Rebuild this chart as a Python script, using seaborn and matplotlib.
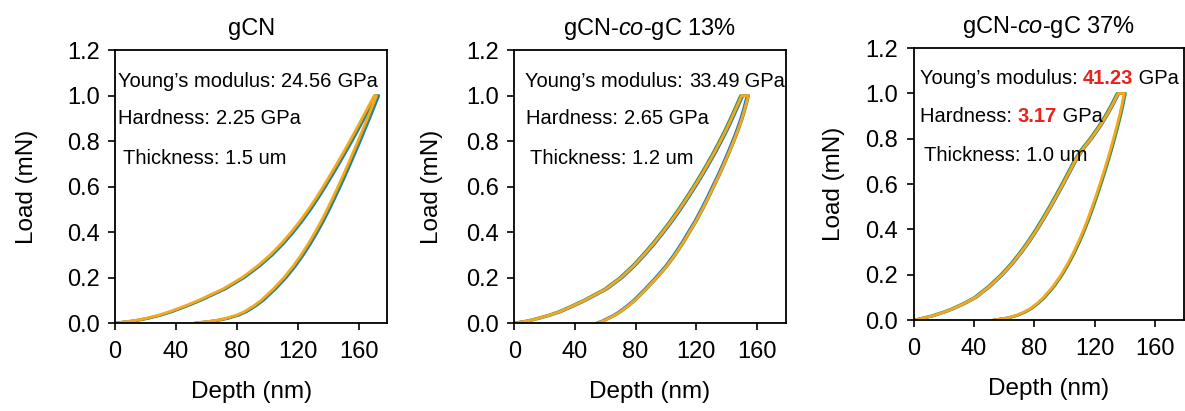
import numpy as np
import pandas as pd
import matplotlib
matplotlib.use("Agg")
import matplotlib.pyplot as plt
import matplotlib.transforms as mtransforms
import seaborn as sns

# load levels (mN) for the loading branch and the unloading branch
load_up = [0, 0.01, 0.02, 0.035, 0.05, 0.075, 0.1, 0.15, 0.2, 0.25, 0.3, 0.35, 0.4,
           0.45, 0.5, 0.55, 0.6, 0.65, 0.7, 0.75, 0.8, 0.85, 0.9, 0.95, 1.0]
load_down = [1.0, 0.95, 0.9, 0.85, 0.8, 0.75, 0.7, 0.65, 0.6, 0.55, 0.5, 0.45, 0.4,
             0.35, 0.3, 0.25, 0.2, 0.15, 0.1, 0.075, 0.05, 0.035, 0.02, 0.01, 0]

# depth (nm), three repeat indents per sample, loading then unloading
gcn_orange_up = [0, 12, 20, 29, 36, 46, 55, 71, 83.5, 93.5, 102, 109.3, 115.8, 121.7, 127.1,
                 132.1, 136.8, 141.3, 145.7, 150, 154.2, 158.3, 162.3, 166.3, 170.3]
gcn_orange_down = [171.8, 168.8, 165.8, 162.7, 159.6, 156.4, 153.2, 149.9, 146.5, 143, 139.4,
                   135.6, 131.5, 127.1, 122.3, 117, 111, 104, 96, 91, 85, 80, 72.5, 65, 52]
gcn_blue_up = [0, 13.5, 21.5, 30.5, 37.5, 47.5, 56.5, 72.5, 85, 95, 103.5, 110.8, 117.3, 123.2,
               128.6, 133.6, 138.3, 142.8, 147.2, 151.5, 155.7, 159.8, 163.8, 167.8, 171.8]
gcn_blue_down = [173.3, 170.3, 167.3, 164.2, 161.1, 157.9, 154.7, 151.4, 148, 144.5, 140.9,
                 137.1, 133, 128.6, 123.8, 118.5, 112.5, 105.5, 97.5, 92.5, 86.5, 81.5, 74, 66.5, 53.5]
gcn_green_up = [0, 12.7, 20.7, 29.7, 36.7, 46.7, 55.7, 71.7, 84.2, 94.2, 102.7, 110, 116.5, 122.4,
                127.8, 132.8, 137.5, 142, 146.4, 150.7, 154.9, 159, 163, 167, 171]
gcn_green_down = [172.5, 169.5, 166.5, 163.4, 160.3, 157.1, 153.9, 150.6, 147.2, 143.7, 140.1,
                  136.3, 132.2, 127.8, 123, 117.7, 111.7, 104.7, 96.7, 91.7, 85.7, 80.7, 73.2, 65.7, 52.7]

c13_orange_up = [0, 9.5, 15.5, 23.5, 30, 38.5, 46.5, 60.5, 70.5, 78.5, 85.5, 92, 98, 103.7, 109,
                 114, 118.8, 123.4, 127.8, 132, 136, 139.8, 143.3, 146.7, 150]
c13_orange_down = [154.3, 152.4, 150.2, 147.6, 144.7, 141.6, 138.4, 135, 131.4, 127.8, 124, 120,
                   115.5, 111, 106, 100.5, 94, 87, 79.5, 75, 70, 66.5, 62, 59, 55]
c13_blue_up = [0, 10.3, 16.3, 24.3, 30.8, 39.3, 47.3, 61.3, 71.3, 79.3, 86.3, 92.8, 98.8, 104.5,
               109.8, 114.8, 119.6, 124.2, 128.6, 132.8, 136.8, 140.6, 144.1, 147.5, 150.8]
c13_blue_down = [153.5, 151.6, 149.4, 146.8, 143.9, 140.8, 137.6, 134.2, 130.6, 127, 123.2, 119.2,
                 114.7, 110.2, 105.2, 99.7, 93.2, 86.2, 78.7, 74.2, 69.2, 65.7, 61.2, 58.2, 54.2]
c13_green_up = [0, 8.7, 14.7, 22.7, 29.2, 37.7, 45.7, 59.7, 69.7, 77.7, 84.7, 91.2, 97.2, 102.9,
                108.2, 113.2, 118, 122.6, 127, 131.2, 135.2, 139, 142.5, 145.9, 149.2]
c13_green_down = [154.6, 152.7, 150.5, 147.9, 145, 141.9, 138.7, 135.3, 131.7, 128.1, 124.3, 120.3,
                  115.8, 111.3, 106.3, 100.8, 94.3, 87.3, 79.8, 75.3, 70.3, 66.8, 62.3, 59.3, 55.3]

c37_orange_up = [0, 7, 13, 20, 26, 34, 41, 50.5, 58.5, 65.3, 71.3, 76.7, 81.6, 86.2, 90.6,
                 94.8, 98.9, 102.9, 106.8, 111.5, 117.5, 122.8, 127.5, 131.7, 135.5]
c37_orange_down = [139.5, 138, 136.3, 134.4, 132.4, 130.3, 128.1, 125.8, 123.4, 120.9, 118.3,
                   115.6, 112.7, 109.5, 106, 102.1, 97.7, 92.5, 86, 82, 77, 73, 67.5, 62, 52]
c37_blue_up = [0, 7.5, 13.5, 20.5, 26.5, 34.5, 41.5, 51, 59, 65.8, 71.8, 77.2, 82.1, 86.7, 91.1,
               95.3, 99.4, 103.4, 107.3, 112, 118, 123.3, 128, 132.2, 136]
c37_blue_down = [139.9, 138.4, 136.7, 134.8, 132.8, 130.7, 128.5, 126.2, 123.8, 121.3, 118.7,
                 116, 113.1, 109.9, 106.4, 102.5, 98.1, 92.9, 86.4, 82.4, 77.4, 73.4, 67.9, 62.4, 52.4]
c37_green_up = [0, 6.2, 12.2, 19.2, 25.2, 33.2, 40.2, 49.7, 57.7, 64.5, 70.5, 75.9, 80.8, 85.4,
                89.8, 94, 98.1, 102.1, 106, 110.7, 116.7, 122, 126.7, 130.9, 134.7]
c37_green_down = [140.3, 138.8, 137.1, 135.2, 133.2, 131.1, 128.9, 126.6, 124.2, 121.7, 119.1,
                  116.4, 113.5, 110.3, 106.8, 102.9, 98.5, 93.3, 86.8, 82.8, 77.8, 73.8, 68.3, 62.8, 52.8]

titles = ["gCN", r"gCN-$\mathit{co}$-gC 13%", r"gCN-$\mathit{co}$-gC 37%"]
modulus = ["24.56", "33.49", "41.23"]
hardness = ["2.25", "2.65", "3.17"]
thickness = ["1.5", "1.2", "1.0"]
highlight = [False, False, True]

samples = [
    {"blue": (gcn_blue_up, gcn_blue_down), "green": (gcn_green_up, gcn_green_down),
     "orange": (gcn_orange_up, gcn_orange_down)},
    {"blue": (c13_blue_up, c13_blue_down), "green": (c13_green_up, c13_green_down),
     "orange": (c13_orange_up, c13_orange_down)},
    {"blue": (c37_blue_up, c37_blue_down), "green": (c37_green_up, c37_green_down),
     "orange": (c37_orange_up, c37_orange_down)},
]

palette = {"blue": "#1f7bbf", "green": "#3a8f5a", "orange": "#f5a81c"}
red = "#e8231c"

sns.set_theme(style="ticks")
plt.rcParams["font.family"] = ["Liberation Sans", "DejaVu Sans"]
plt.rcParams["mathtext.fontset"] = "custom"
plt.rcParams["mathtext.rm"] = "Liberation Sans"
plt.rcParams["mathtext.it"] = "Liberation Sans:italic"
plt.rcParams["text.color"] = "black"
plt.rcParams["axes.labelcolor"] = "black"
plt.rcParams["axes.linewidth"] = 1.3
plt.rcParams["axes.edgecolor"] = "black"
plt.rcParams["xtick.major.width"] = 1.2
plt.rcParams["ytick.major.width"] = 1.2
plt.rcParams["xtick.major.size"] = 5
plt.rcParams["ytick.major.size"] = 5

fig = plt.figure(figsize=(11.85, 4.11), dpi=100)
positions = [
    [0.097, 0.214, 0.230, 0.664],
    [0.434, 0.214, 0.229, 0.664],
    [0.771, 0.221, 0.228, 0.662],
]
text_x = [(2, 2, 5), (7.3, 8, 10.6), (4, 4, 6.6)]
ylabel_pad = [21, 17, 15]


def chained_text(ax, x, y, parts, size):
    # draw text pieces one after another on the same baseline
    t = ax.text(x, y, parts[0][0], fontsize=size, color=parts[0][1],
                fontweight=parts[0][2], va="baseline", ha="left")
    trans = t.get_transform()
    offset = 0
    for s, c, w in parts[1:]:
        fig.canvas.draw()
        offset += t.get_window_extent().width
        t = ax.text(x, y, s, fontsize=size, color=c, fontweight=w, va="baseline", ha="left",
                    transform=mtransforms.offset_copy(trans, fig=fig, x=offset, units="dots"))


for i, pos in enumerate(positions):
    ax = fig.add_axes(pos)
    rows = []
    for rep in ["blue", "green", "orange"]:
        up, down = samples[i][rep]
        for d, l in zip(up + down, load_up + load_down):
            rows.append({"depth": d, "load": l, "rep": rep})
    df = pd.DataFrame(rows)
    sns.lineplot(data=df, x="depth", y="load", hue="rep", palette=palette, sort=False,
                 estimator=None, legend=False, linewidth=2.0, ax=ax)

    ax.set_xlim(0, 179)
    ax.set_ylim(0, 1.2)
    ax.set_xticks([0, 40, 80, 120, 160])
    ax.set_yticks(np.arange(0, 1.21, 0.2))
    ax.set_yticklabels(["%.1f" % v for v in np.arange(0, 1.21, 0.2)])
    ax.tick_params(labelsize=17, colors="black")
    ax.tick_params(axis="x", pad=8)
    ax.tick_params(axis="y", pad=6)
    ax.set_xlabel("Depth (nm)", fontsize=17.5, labelpad=13)
    ax.set_ylabel("Load (mN)", fontsize=17.5, labelpad=ylabel_pad[i])
    ax.set_title(titles[i], fontsize=17, pad=11)
    for sp in ax.spines.values():
        sp.set_visible(True)
        sp.set_color("black")

    hl_color = red if highlight[i] else "black"
    hl_weight = "bold" if highlight[i] else "normal"
    xa, xb, xc = text_x[i]
    chained_text(ax, xa, 1.04, [("Young’s modulus: ", "black", "normal"),
                                (modulus[i], hl_color, hl_weight),
                                (" GPa", "black", "normal")], 14.5)
    chained_text(ax, xb, 0.875, [("Hardness: ", "black", "normal"),
                                 (hardness[i], hl_color, hl_weight),
                                 (" GPa", "black", "normal")], 14.5)
    ax.text(xc, 0.70, "Thickness: %s um" % thickness[i], fontsize=14.5, va="baseline", ha="left")

fig.savefig("out.png", dpi=100)
